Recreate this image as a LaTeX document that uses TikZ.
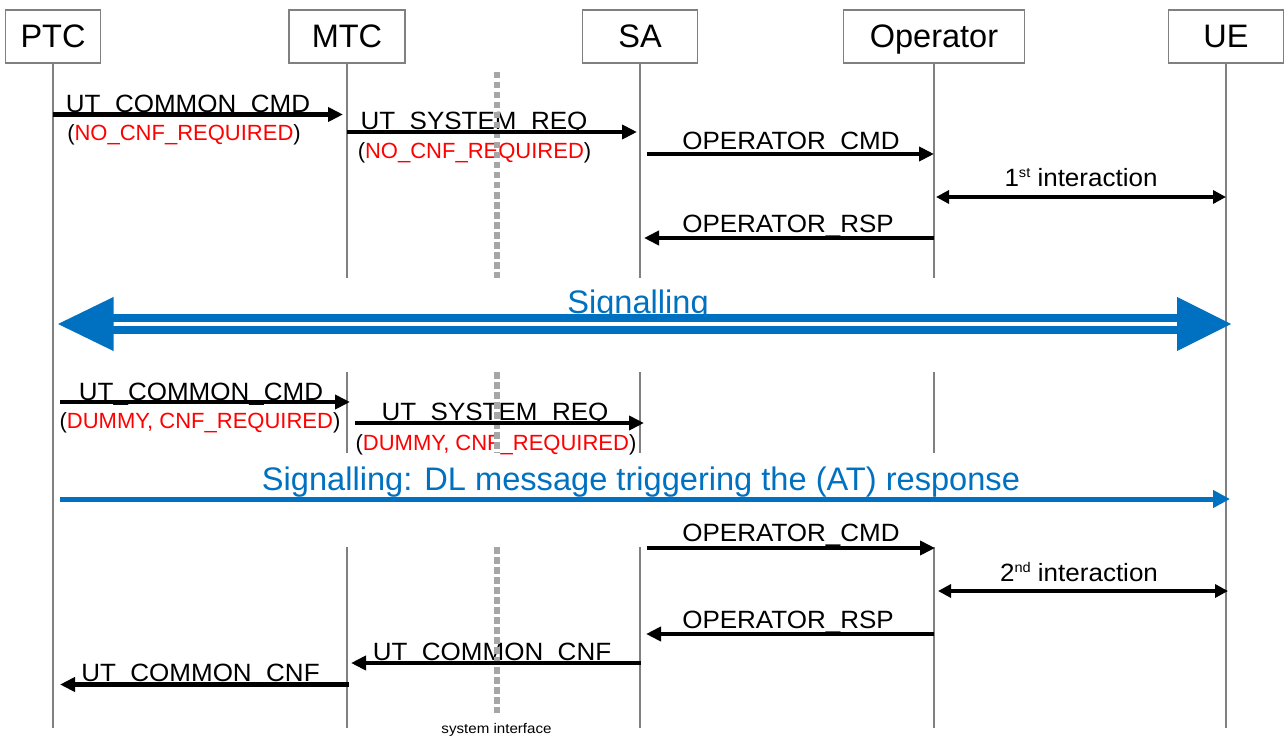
\documentclass[tikz,border=0pt]{standalone}
\usepackage{fontspec}
\setmainfont{Liberation Sans}
\usepackage{graphicx}
\usetikzlibrary{arrows.meta}
\definecolor{sigblue}{HTML}{0070C0}
\definecolor{lifegray}{HTML}{808080}
\definecolor{dashgray}{HTML}{A6A6A6}
\definecolor{redtxt}{HTML}{FF0000}
\newcommand\hs[1]{\scalebox{1.04}[1]{#1}}
\newcommand\supx[1]{\raisebox{9pt}{\fontsize{14}{14}\selectfont #1}}
\begin{document}
\begin{tikzpicture}[x=1pt,y=-1pt,
  entity/.style={draw=lifegray, line width=1.6pt, fill=white, inner sep=0pt,
    minimum height=53pt, font=\fontsize{32.5}{36}\selectfont, text height=23pt, text depth=0pt},
  life/.style={draw=lifegray, line width=1.6pt},
  sysif/.style={draw=dashgray, line width=6.5pt, dash pattern=on 6.5pt off 3.5pt},
  msg/.style={draw=black, line width=4.5pt, -{Triangle[length=15pt,width=14pt]}},
  inter/.style={draw=black, line width=4.5pt, {Triangle[length=13pt,width=13pt]}-{Triangle[length=13pt,width=13pt]}},
  lbl/.style={anchor=base, inner sep=0pt, font=\fontsize{25}{28}\selectfont},
  sub/.style={anchor=base, inner sep=0pt, font=\fontsize{22}{26}\selectfont},
  sig/.style={anchor=base, inner sep=0pt, text=sigblue, font=\fontsize{32.6}{36}\selectfont},
  small/.style={anchor=base, inner sep=0pt, font=\fontsize{14}{16}\selectfont},
]
\useasboundingbox (0,0) rectangle (1284,738);

% entities
\node[entity, minimum width=95pt]  (PTC) at (53,36.5)  {PTC};
\node[entity, minimum width=116pt] (MTC) at (347,36.5) {MTC};
\node[entity, minimum width=115pt] (SA)  at (640,36.5) {SA};
\node[entity, minimum width=181pt] (OP)  at (934,36.5) {Operator};
\node[entity, minimum width=115pt] (UE)  at (1226,36.5) {UE};

% lifelines
\coordinate (PTCb) at (53,728);
\coordinate (UEb) at (1226,728);
\draw[life] (PTC.south) -- (PTCb);
\draw[life] (UE.south) -- (UEb);
\foreach \n/\x in {MTC/347, SA/640, OP/934}{
  \coordinate (\n1) at (\x,277.5);
  \coordinate (\n2) at (\x,372);
  \coordinate (\n3) at (\x,453);
  \coordinate (\n4) at (\x,547);
  \coordinate (\n5) at (\x,728);
  \draw[life] (\n.south) -- (\n1);
  \draw[life] (\n2) -- (\n3);
  \draw[life] (\n4) -- (\n5);
}

% labels
\node[lbl] (l1) at (188,113) {\hs{UT\_COMMON\_CMD}};
\node[sub] (s1) at (184,141) {(\textcolor{redtxt}{NO\_CNF\_REQUIRED})};
\node[lbl] (l2) at (474,130) {\hs{UT\_SYSTEM\_REQ}};
\node[sub] (s2) at (474.5,159) {(\textcolor{redtxt}{NO\_CNF\_REQUIRED})};
\node[lbl] (l3) at (791,149.5) {\hs{OPERATOR\_CMD}};
\node[lbl] (l4) at (1081,186) {\hs{1\supx{st} interaction}};
\node[lbl] (l5) at (788,232.7) {\hs{OPERATOR\_RSP}};
\node[sig] (l6) at (638,313) {Signalling};
\node[lbl] (l7) at (201,400) {\hs{UT\_COMMON\_CMD}};
\node[sub] (s7) at (200,428) {(\textcolor{redtxt}{DUMMY, CNF\_REQUIRED})};
\node[lbl] (l8) at (495,420) {\hs{UT\_SYSTEM\_REQ}};
\node[sub] (s8) at (496,450.5) {(\textcolor{redtxt}{DUMMY, CNF\_REQUIRED})};
\node[sig] (l9) at (641,490) {Signalling: DL message triggering the (AT) response};
\node[lbl] (l10) at (791,541.7) {\hs{OPERATOR\_CMD}};
\node[lbl] (l11) at (1079,581) {\hs{2\supx{nd} interaction}};
\node[lbl] (l12) at (788,628.3) {\hs{OPERATOR\_RSP}};
\node[lbl] (l13) at (492,660) {\hs{UT\_COMMON\_CNF}};
\node[lbl] (l14) at (200.5,681.7) {\hs{UT\_COMMON\_CNF}};
\node[small] (l15) at (496.5,733.3) {\scalebox{1.08}[1]{system interface}};

% system interface (dashed)
\coordinate (d1) at (497,72);   \coordinate (d2) at (497,278);
\coordinate (d3) at (497,372);  \coordinate (d4) at (497,453);
\coordinate (d5) at (497,547);  \coordinate (d6) at (497,713);
\draw[sysif] (d1) -- (d2);
\draw[sysif] (d3) -- (d4);
\draw[sysif] (d5) -- (d6);

% messages
\coordinate (a1s) at (53,114.5);   \coordinate (a1e) at (343,114.5);
\coordinate (a2s) at (347,132);    \coordinate (a2e) at (637,132);
\coordinate (a3s) at (647,154);    \coordinate (a3e) at (934,154);
\coordinate (a4s) at (936,197);    \coordinate (a4e) at (1226,197);
\coordinate (a5s) at (934,238);    \coordinate (a5e) at (644,238);
\coordinate (a7s) at (60,402);     \coordinate (a7e) at (350,402);
\coordinate (a8s) at (355,423);    \coordinate (a8e) at (644,423);
\coordinate (a9s) at (60,499);     \coordinate (a9e) at (1230,499);
\coordinate (a10s) at (647,548);   \coordinate (a10e) at (935,548);
\coordinate (a11s) at (938,591);   \coordinate (a11e) at (1228,591);
\coordinate (a12s) at (934,634);   \coordinate (a12e) at (646,634);
\coordinate (a13s) at (641,663);   \coordinate (a13e) at (351,663);
\coordinate (a14s) at (349,684.5); \coordinate (a14e) at (60,684.5);

\draw[msg] (a1s) -- (a1e);
\draw[msg] (a2s) -- (a2e);
\draw[msg] (a3s) -- (a3e);
\draw[inter] (a4s) -- (a4e);
\draw[msg] (a5s) -- (a5e);
\draw[msg] (a7s) -- (a7e);
\draw[msg] (a8s) -- (a8e);
\draw[draw=sigblue, line width=5pt, -{Triangle[length=17pt,width=17pt]}] (a9s) -- (a9e);
\draw[msg] (a10s) -- (a10e);
\draw[inter] (a11s) -- (a11e);
\draw[msg] (a12s) -- (a12e);
\draw[msg] (a13s) -- (a13e);
\draw[msg] (a14s) -- (a14e);

% big signalling double arrow
\coordinate (sigL) at (58,324);
\coordinate (sigR) at (1231,324);
\fill[sigblue] (sigL) -- (113.5,297) -- (113.5,351) -- cycle;
\fill[sigblue] (sigR) -- (1177,297) -- (1177,351) -- cycle;
\draw[sigblue, line width=8pt] (112,318.3) -- (1178,318.3);
\draw[sigblue, line width=8pt] (112,330) -- (1178,330);
\end{tikzpicture}
\end{document}
